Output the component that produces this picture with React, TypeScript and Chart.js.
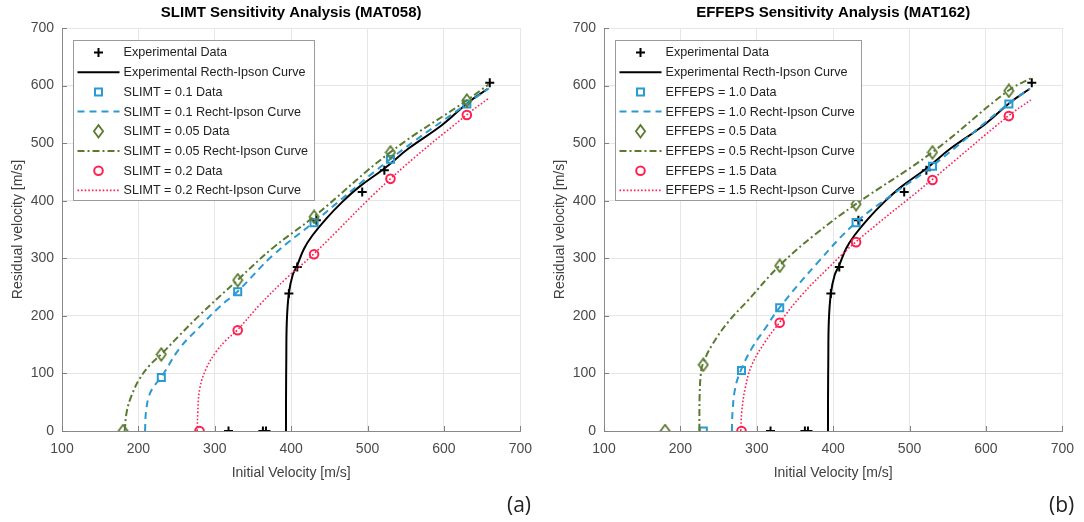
import React, { useEffect, useRef } from 'react';
import { Chart, registerables } from 'chart.js';

Chart.register(...registerables);

const FONT = '"Liberation Sans", Arial, sans-serif';

// ---------- shared experimental data ----------
const expX = [318, 363, 367, 397, 408, 433, 493, 522, 660];
const expY = [0, 0, 0, 239, 285, 366, 415, 453, 605];
const expCurveX = [393.2, 393.3, 393.6, 394.3, 397, 402, 408, 417, 428, 446, 467, 489, 522, 554, 598, 633, 657];
const expCurveY = [0, 60, 120, 190, 239, 271, 288, 317, 340, 369, 398, 424, 456, 491, 532, 572, 594];

// ---------- (a) SLIMT ----------
const slimt01X = [230, 330, 430, 530, 630];
const slimt01Y = [93, 242, 362, 472, 568];
const slimt01CurveX = [208.7, 210, 214.3, 221.7, 229.6, 254, 280.4, 306.5, 329.6, 376, 429.6, 529.6, 629.6, 658.7];
const slimt01CurveY = [0, 33.6, 62.5, 80, 92.6, 143.6, 181, 216, 242, 305, 362.5, 472, 568, 595];

const slimt005X = [180, 230, 330, 430, 530, 630];
const slimt005Y = [0, 133, 262, 372, 484, 574];
const slimt005CurveX = [182, 184.8, 191.3, 202, 215, 229.6, 254.3, 280.4, 329.6, 376, 429.6, 529.6, 629.6, 658.7];
const slimt005CurveY = [0, 33.6, 62.5, 91.5, 114.6, 133, 166.8, 201.5, 262, 318, 372, 484, 574, 602];

const slimt02X = [280, 330, 430, 530, 630];
const slimt02Y = [0, 175, 307, 438, 549];
const slimt02CurveX = [277, 277.8, 280.4, 289, 302, 315, 329.6, 358.7, 393.5, 429.6, 529.6, 629.6, 658.7];
const slimt02CurveY = [0, 33.6, 74, 109, 138, 158, 175.4, 219, 265, 307.5, 437.7, 549, 578];

// ---------- (b) EFFEPS ----------
const eff10X = [230, 280, 330, 430, 530, 630];
const eff10Y = [0, 105, 214, 362, 460, 568];
const eff10CurveX = [267.4, 268.3, 271.7, 279, 293.5, 311, 329.6, 380, 429.6, 480, 529.6, 629, 657.8];
const eff10CurveY = [0, 33.6, 74, 104.8, 143.6, 178, 214, 293, 362, 413, 460, 568, 595];

const eff05X = [180, 230, 330, 430, 530, 630];
const eff05Y = [0, 115, 287, 394, 484, 591];
const eff05CurveX = [224.8, 225.2, 226.5, 229, 241.3, 263, 289, 329.6, 376, 429.6, 529.6, 629, 658.7];
const eff05CurveY = [0, 62.5, 95, 114.6, 149, 190, 227.6, 287, 341, 394, 484, 591, 612.6];

const eff15X = [280, 330, 430, 530, 630];
const eff15Y = [0, 188, 328, 436, 547];
const eff15CurveX = [279, 280.4, 284.8, 293.5, 311, 329.6, 358.7, 393.5, 429, 529, 629, 658.7];
const eff15CurveY = [0, 33.6, 74, 114.6, 155, 188, 236, 283, 327.7, 436, 547, 575];

const xTicks = [100, 200, 300, 400, 500, 600, 700];
const yTicks = [0, 100, 200, 300, 400, 500, 600, 700];

const BLACK = '#000000';
const BLUE = '#2a9ad2';
const GREEN = '#5b7a30';
const RED = '#ff2050';

const pts = (xs: number[], ys: number[]) => xs.map((x, i) => ({ x, y: ys[i] }));

function makeDiamond(color: string) {
  const c = document.createElement('canvas');
  c.width = 12;
  c.height = 15;
  const g = c.getContext('2d')!;
  g.strokeStyle = color;
  g.lineWidth = 1.8;
  g.beginPath();
  g.moveTo(6, 1.3);
  g.lineTo(10.6, 7.5);
  g.lineTo(6, 13.7);
  g.lineTo(1.4, 7.5);
  g.closePath();
  g.stroke();
  return c;
}

function drawMarker(ctx: CanvasRenderingContext2D, kind: string, x: number, y: number, color: string) {
  ctx.save();
  ctx.strokeStyle = color;
  ctx.lineWidth = 2;
  ctx.setLineDash([]);
  ctx.beginPath();
  if (kind === 'cross') {
    ctx.moveTo(x - 4.5, y);
    ctx.lineTo(x + 4.5, y);
    ctx.moveTo(x, y - 4.5);
    ctx.lineTo(x, y + 4.5);
  } else if (kind === 'square') {
    ctx.rect(x - 3.5, y - 3.5, 7, 7);
  } else if (kind === 'diamond') {
    ctx.lineWidth = 1.8;
    ctx.moveTo(x, y - 6.2);
    ctx.lineTo(x + 4.6, y);
    ctx.lineTo(x, y + 6.2);
    ctx.lineTo(x - 4.6, y);
    ctx.closePath();
  } else if (kind === 'circle') {
    ctx.arc(x, y, 4.3, 0, Math.PI * 2);
  }
  ctx.stroke();
  ctx.restore();
}

const decorPlugin = {
  id: 'decor',
  afterDraw(chart: any) {
    const { ctx, chartArea } = chart;
    const opts = chart.options.plugins.decor || {};
    ctx.save();
    // inside tick marks
    ctx.strokeStyle = '#808080';
    ctx.lineWidth = 1;
    ctx.setLineDash([]);
    const xs = chart.scales.x;
    const ys = chart.scales.y;
    ctx.beginPath();
    xTicks.forEach((v) => {
      const px = Math.round(xs.getPixelForValue(v)) + 0.5;
      ctx.moveTo(px, chartArea.bottom);
      ctx.lineTo(px, chartArea.bottom - 5);
    });
    yTicks.forEach((v) => {
      const py = Math.round(ys.getPixelForValue(v)) + 0.5;
      ctx.moveTo(chartArea.left, py);
      ctx.lineTo(chartArea.left + 5, py);
    });
    ctx.stroke();

    // title
    ctx.fillStyle = '#000';
    ctx.font = `bold 15px ${FONT}`;
    ctx.textAlign = 'center';
    ctx.textBaseline = 'middle';
    ctx.fillText(opts.title || '', (chartArea.left + chartArea.right) / 2, 13);

    // legend
    const items = chart.data.datasets;
    ctx.font = `12.6px ${FONT}`;
    const textW = Math.max(...items.map((d: any) => ctx.measureText(d.label).width));
    const x0 = Math.round(chartArea.left + 11) + 0.5;
    const y0 = Math.round(chartArea.top + 12) + 0.5;
    const rowH = 19.7;
    const w = Math.round(50 + textW + 7);
    const h = 160;
    ctx.fillStyle = '#ffffff';
    ctx.fillRect(x0, y0, w, h);
    ctx.strokeStyle = '#9a9a9a';
    ctx.lineWidth = 1;
    ctx.strokeRect(x0, y0, w, h);
    items.forEach((d: any, i: number) => {
      const cy = y0 + 12 + i * rowH;
      if (d.showLine) {
        ctx.save();
        ctx.strokeStyle = d.borderColor;
        ctx.lineWidth = d.borderWidth;
        ctx.setLineDash(d.borderDash || []);
        ctx.beginPath();
        ctx.moveTo(x0 + 4, cy);
        ctx.lineTo(x0 + 46, cy);
        ctx.stroke();
        ctx.restore();
      } else {
        drawMarker(ctx, d.marker, x0 + 25, cy, d.borderColor);
      }
      ctx.fillStyle = '#222222';
      ctx.textAlign = 'left';
      ctx.textBaseline = 'middle';
      ctx.fillText(d.label, x0 + 50, cy + 0.5);
    });
    ctx.restore();
  },
};

type Series = {
  label: string;
  color: string;
  marker: string;
  dataX: number[];
  dataY: number[];
  curveLabel: string;
  curveX: number[];
  curveY: number[];
  dash: number[];
  width: number;
};

function Panel({ title, series }: { title: string; series: Series[] }) {
  const ref = useRef<HTMLCanvasElement | null>(null);
  useEffect(() => {
    if (!ref.current) return;
    const datasets: any[] = [];
    series.forEach((s) => {
      let pointStyle: any = 'circle';
      let radius = 4.3;
      if (s.marker === 'cross') { pointStyle = 'cross'; radius = 4.5; }
      if (s.marker === 'square') { pointStyle = 'rect'; radius = 5; }
      if (s.marker === 'diamond') { pointStyle = makeDiamond(s.color); radius = 6; }
      datasets.push({
        label: s.label,
        marker: s.marker,
        data: pts(s.dataX, s.dataY),
        showLine: false,
        pointStyle,
        pointRadius: radius,
        pointBorderWidth: 2,
        borderColor: s.color,
        pointBorderColor: s.color,
        backgroundColor: 'rgba(0,0,0,0)',
        pointBackgroundColor: 'rgba(0,0,0,0)',
      });
      datasets.push({
        label: s.curveLabel,
        data: pts(s.curveX, s.curveY),
        showLine: true,
        pointRadius: 0,
        borderColor: s.color,
        borderWidth: s.width,
        borderDash: s.dash,
        fill: false,
        tension: 0.4,
        cubicInterpolationMode: 'default',
      });
    });
    const n = datasets.length;
    datasets.forEach((d, i) => { d.order = n - i; });

    const tickFont = { family: FONT, size: 14 };
    const chart = new Chart(ref.current, {
      type: 'scatter',
      data: { datasets },
      plugins: [decorPlugin],
      options: {
        animation: false,
        responsive: false,
        layout: { padding: { top: 28, right: 20, left: 0, bottom: 0 } },
        plugins: {
          legend: { display: false },
          tooltip: { enabled: false },
          title: { display: false },
          decor: { title },
        } as any,
        scales: {
          x: {
            type: 'linear',
            min: 100,
            max: 700,
            afterFit: (s: any) => { s.height = 91; },
            afterBuildTicks: (s: any) => { s.ticks = xTicks.map((v) => ({ value: v })); },
            ticks: { font: tickFont, color: '#4a4a4a', padding: 10, autoSkip: false, maxRotation: 0 },
            grid: { color: '#e6e6e6', drawTicks: false },
            border: { display: true, color: '#8a8a8a' },
            title: {
              display: true,
              text: 'Initial Velocity [m/s]',
              font: { family: FONT, size: 14 },
              color: '#404040',
              padding: { top: 0, bottom: 40 },
            },
          },
          y: {
            type: 'linear',
            min: 0,
            max: 700,
            afterFit: (s: any) => { s.width = 62; },
            afterBuildTicks: (s: any) => { s.ticks = yTicks.map((v) => ({ value: v })); },
            ticks: { font: tickFont, color: '#4a4a4a', padding: 8, autoSkip: false },
            grid: { color: '#e6e6e6', drawTicks: false },
            border: { display: true, color: '#8a8a8a' },
            title: {
              display: true,
              text: 'Residual velocity [m/s]',
              font: { family: FONT, size: 14 },
              color: '#404040',
              padding: { top: 10, bottom: 0 },
            },
          },
        },
      } as any,
    });
    return () => chart.destroy();
  }, []);
  return <canvas ref={ref} width={542} height={522} style={{ display: 'block' }} />;
}

const expSeries = (): Series => ({
  label: 'Experimental Data',
  color: BLACK,
  marker: 'cross',
  dataX: expX,
  dataY: expY,
  curveLabel: 'Experimental Recth-Ipson Curve',
  curveX: expCurveX,
  curveY: expCurveY,
  dash: [],
  width: 2,
});

const seriesA: Series[] = [
  expSeries(),
  { label: 'SLIMT = 0.1 Data', color: BLUE, marker: 'square', dataX: slimt01X, dataY: slimt01Y, curveLabel: 'SLIMT = 0.1 Recht-Ipson Curve', curveX: slimt01CurveX, curveY: slimt01CurveY, dash: [7, 5], width: 2 },
  { label: 'SLIMT = 0.05 Data', color: GREEN, marker: 'diamond', dataX: slimt005X, dataY: slimt005Y, curveLabel: 'SLIMT = 0.05 Recht-Ipson Curve', curveX: slimt005CurveX, curveY: slimt005CurveY, dash: [7, 3, 2, 3], width: 2 },
  { label: 'SLIMT = 0.2 Data', color: RED, marker: 'circle', dataX: slimt02X, dataY: slimt02Y, curveLabel: 'SLIMT = 0.2 Recht-Ipson Curve', curveX: slimt02CurveX, curveY: slimt02CurveY, dash: [1.6, 2], width: 1.6 },
];

const seriesB: Series[] = [
  expSeries(),
  { label: 'EFFEPS = 1.0 Data', color: BLUE, marker: 'square', dataX: eff10X, dataY: eff10Y, curveLabel: 'EFFEPS = 1.0 Recht-Ipson Curve', curveX: eff10CurveX, curveY: eff10CurveY, dash: [7, 5], width: 2 },
  { label: 'EFFEPS = 0.5 Data', color: GREEN, marker: 'diamond', dataX: eff05X, dataY: eff05Y, curveLabel: 'EFFEPS = 0.5 Recht-Ipson Curve', curveX: eff05CurveX, curveY: eff05CurveY, dash: [7, 3, 2, 3], width: 2 },
  { label: 'EFFEPS = 1.5 Data', color: RED, marker: 'circle', dataX: eff15X, dataY: eff15Y, curveLabel: 'EFFEPS = 1.5 Recht-Ipson Curve', curveX: eff15CurveX, curveY: eff15CurveY, dash: [1.6, 2], width: 1.6 },
];

export default function App() {
  const tagStyle: React.CSSProperties = {
    position: 'absolute',
    top: 490,
    fontFamily: '"Open Sans", "Liberation Sans", sans-serif',
    fontSize: 21,
    color: '#222',
    lineHeight: '28px',
  };
  return (
    <div style={{ position: 'absolute', left: 0, top: 0, width: 1084, height: 522, background: '#fff', overflow: 'hidden' }}>
      <div style={{ position: 'absolute', left: 0, top: 0 }}>
        <Panel title="SLIMT Sensitivity Analysis (MAT058)" series={seriesA} />
      </div>
      <div style={{ position: 'absolute', left: 542, top: 0 }}>
        <Panel title="EFFEPS Sensitivity Analysis (MAT162)" series={seriesB} />
      </div>
      <div style={{ ...tagStyle, left: 507 }}>(a)</div>
      <div style={{ ...tagStyle, left: 1049 }}>(b)</div>
    </div>
  );
}
